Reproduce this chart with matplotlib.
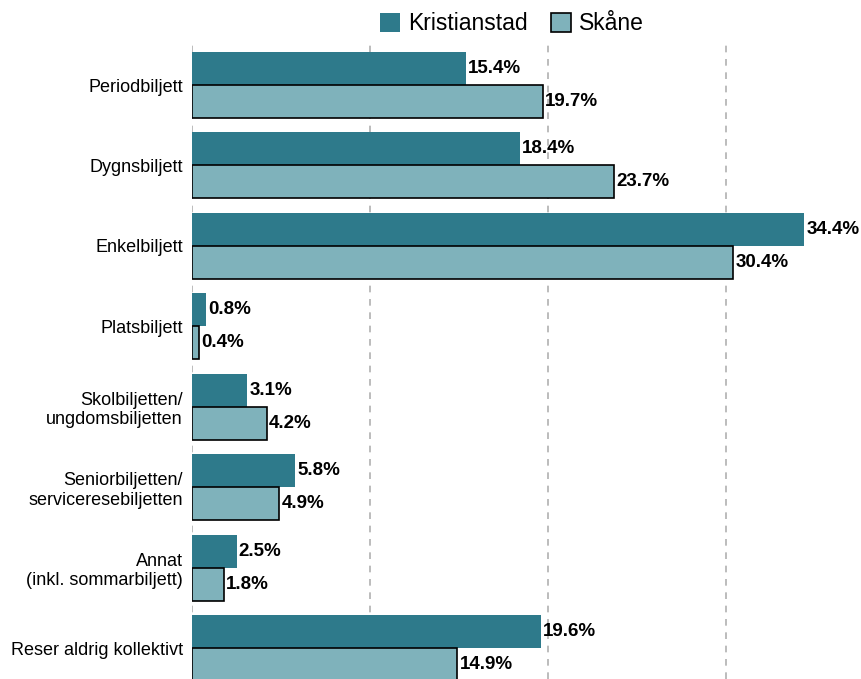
import matplotlib.pyplot as plt
import numpy as np

plt.rcParams['font.family'] = ['Liberation Sans', 'DejaVu Sans']

kategorier = ["Periodbiljett", "Dygnsbiljett", "Enkelbiljett", "Platsbiljett",
              "Skolbiljetten/\nungdomsbiljetten", "Seniorbiljetten/\nserviceresebiljetten",
              "Annat\n(inkl. sommarbiljett)", "Reser aldrig kollektivt"]
kristianstad = [15.4, 18.4, 34.4, 0.8, 3.1, 5.8, 2.5, 19.6]
skane = [19.7, 23.7, 30.4, 0.4, 4.2, 4.9, 1.8, 14.9]

c_dark = '#2e7a8b'
c_light = '#7fb2bb'

fig = plt.figure(figsize=(8.61, 6.79), dpi=100)
ax = fig.add_axes([192 / 861, 0, 669 / 861, 635 / 679])

y = np.arange(len(kategorier))
h = 0.41
b1 = ax.barh(y - h / 2, kristianstad, height=h, color=c_dark, label='Kristianstad', zorder=3)
b2 = ax.barh(y + h / 2, skane, height=h, color=c_light, edgecolor='black', linewidth=1.2,
             label='Skåne', zorder=3)

for bars, vals in [(b1, kristianstad), (b2, skane)]:
    for bar, v in zip(bars, vals):
        ax.text(bar.get_width() + 0.12, bar.get_y() + bar.get_height() / 2,
                f"{v}%", va='center', ha='left', fontsize=13.5, fontweight='bold', zorder=4)

ax.set_yticks(y)
ax.set_yticklabels(kategorier, fontsize=13)
ax.set_ylim(7.385, -0.51)
ax.set_xlim(0, 37.58)
ax.set_xticks([0, 10, 20, 30])
ax.xaxis.grid(True, linestyle=(0, (4, 4)), color='#b0b0b0', linewidth=1.2, zorder=0)
ax.tick_params(axis='x', bottom=False, labelbottom=False)
ax.tick_params(axis='y', left=False, pad=3)
for s in ax.spines.values():
    s.set_visible(False)

fig.legend(handles=[b1, b2], labels=['Kristianstad', 'Skåne'], loc='center',
           bbox_to_anchor=(512 / 861, 1 - 24 / 679), ncol=2, frameon=False,
           fontsize=16.5, handlelength=0.9, handleheight=0.9, columnspacing=1.0,
           handletextpad=0.35)

fig.savefig('out.png', dpi=100)
